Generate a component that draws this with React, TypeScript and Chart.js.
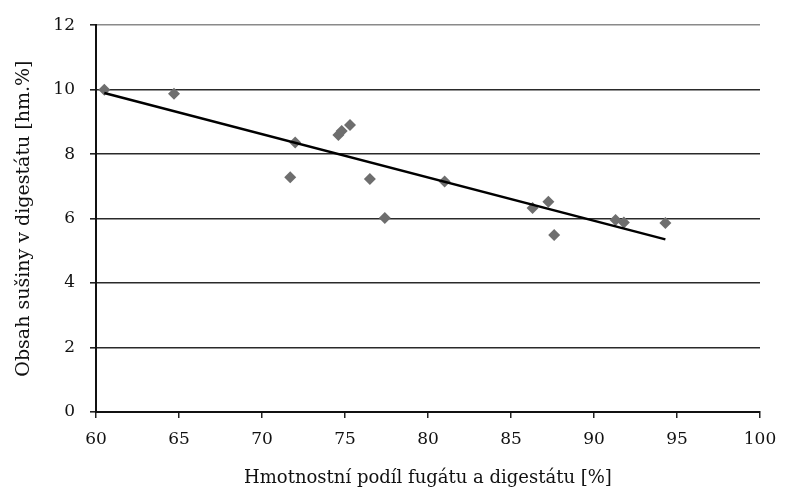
import React, { useEffect, useRef } from "react";
import { Chart, registerables } from "chart.js";

Chart.register(...registerables);

// Measured points: mass fraction of centrate and digestate [%] vs. dry matter [wt.%]
const xValues: number[] = [60.5, 64.7, 72.0, 71.7, 74.6, 74.8, 75.3, 76.5, 77.4, 81.0, 86.3, 87.25, 87.6, 91.3, 91.8, 94.3];
const yValues: number[] = [10.0, 9.87, 8.36, 7.28, 8.59, 8.72, 8.9, 7.23, 6.02, 7.15, 6.33, 6.52, 5.49, 5.96, 5.88, 5.86];

const xTicks: number[] = [60, 65, 70, 75, 80, 85, 90, 95, 100];
const yTicks: number[] = [0, 2, 4, 6, 8, 10, 12];

const xTitle = "Hmotnostní podíl fugátu a digestátu [%]";
const yTitle = "Obsah sušiny v digestátu [hm.%]";

function linearFit(xs: number[], ys: number[]) {
  const n = xs.length;
  const mx = xs.reduce((a, b) => a + b, 0) / n;
  const my = ys.reduce((a, b) => a + b, 0) / n;
  let sxy = 0;
  let sxx = 0;
  for (let i = 0; i < n; i++) {
    sxy += (xs[i] - mx) * (ys[i] - my);
    sxx += (xs[i] - mx) * (xs[i] - mx);
  }
  const slope = sxy / sxx;
  return { slope, intercept: my - slope * mx };
}

export default function App() {
  const ref = useRef<HTMLCanvasElement | null>(null);

  useEffect(() => {
    document.body.style.margin = "0";
    if (!ref.current) return;
    const fit = linearFit(xValues, yValues);
    const xmin = Math.min(...xValues);
    const xmax = Math.max(...xValues);
    const trend = [xmin, xmax].map((x) => ({ x, y: fit.intercept + fit.slope * x }));
    const points = xValues.map((x, i) => ({ x, y: yValues[i] }));
    const tickFont = { family: "'DejaVu Serif', serif", size: 17 };
    const xTitleFont = { family: "'DejaVu Serif', serif", size: 18 };
    const yTitleFont = { family: "'DejaVu Serif', serif", size: 19 };

    const chart = new Chart(ref.current, {
      type: "scatter",
      data: {
        datasets: [
          {
            label: "trend",
            data: trend,
            showLine: true,
            borderColor: "#000",
            borderWidth: 2.5,
            pointRadius: 0,
            fill: false,
          },
          {
            label: "data",
            data: points,
            pointStyle: "rectRot",
            pointRadius: 6,
            backgroundColor: "#6e6e6e",
            borderColor: "#6e6e6e",
            borderWidth: 0,
          },
        ],
      },
      options: {
        animation: false,
        responsive: false,
        maintainAspectRatio: false,
        layout: { padding: { left: 0, top: 20, right: 25, bottom: 0 } },
        plugins: { legend: { display: false }, tooltip: { enabled: false } },
        scales: {
          x: {
            type: "linear",
            min: 60,
            max: 100,
            afterBuildTicks: (s: any) => {
              s.ticks = xTicks.map((v) => ({ value: v }));
            },
            afterFit: (s: any) => {
              s.height = 79;
              s.paddingLeft = 0;
              s.paddingRight = 0;
            },
            grid: { drawOnChartArea: false, tickLength: 6, tickColor: "#222", lineWidth: 1.5 },
            border: { color: "#111", width: 2 },
            ticks: { font: tickFont, color: "#111", padding: 11, maxRotation: 0 },
            title: { display: true, text: xTitle, font: xTitleFont, color: "#111", padding: { top: 0, bottom: 2 } },
          },
          y: {
            type: "linear",
            min: 0,
            max: 12,
            afterBuildTicks: (s: any) => {
              s.ticks = yTicks.map((v) => ({ value: v }));
            },
            afterFit: (s: any) => {
              s.width = 96;
            },
            grid: {
              tickLength: 6,
              color: (c: any) => (c.tick && c.tick.value === 12 ? "#8a8a8a" : "#2a2a2a"),
              tickColor: "#222",
              lineWidth: 1.6,
            },
            border: { color: "#111", width: 2 },
            ticks: { font: tickFont, color: "#111", padding: 15 },
            title: { display: true, text: yTitle, font: yTitleFont, color: "#111", padding: { top: 13, bottom: 0 } },
          },
        },
      },
    });
    return () => chart.destroy();
  }, []);

  return (
    <div style={{ width: 785, height: 491, background: "#fff" }}>
      <canvas ref={ref} width={785} height={491} style={{ display: "block" }} />
    </div>
  );
}
